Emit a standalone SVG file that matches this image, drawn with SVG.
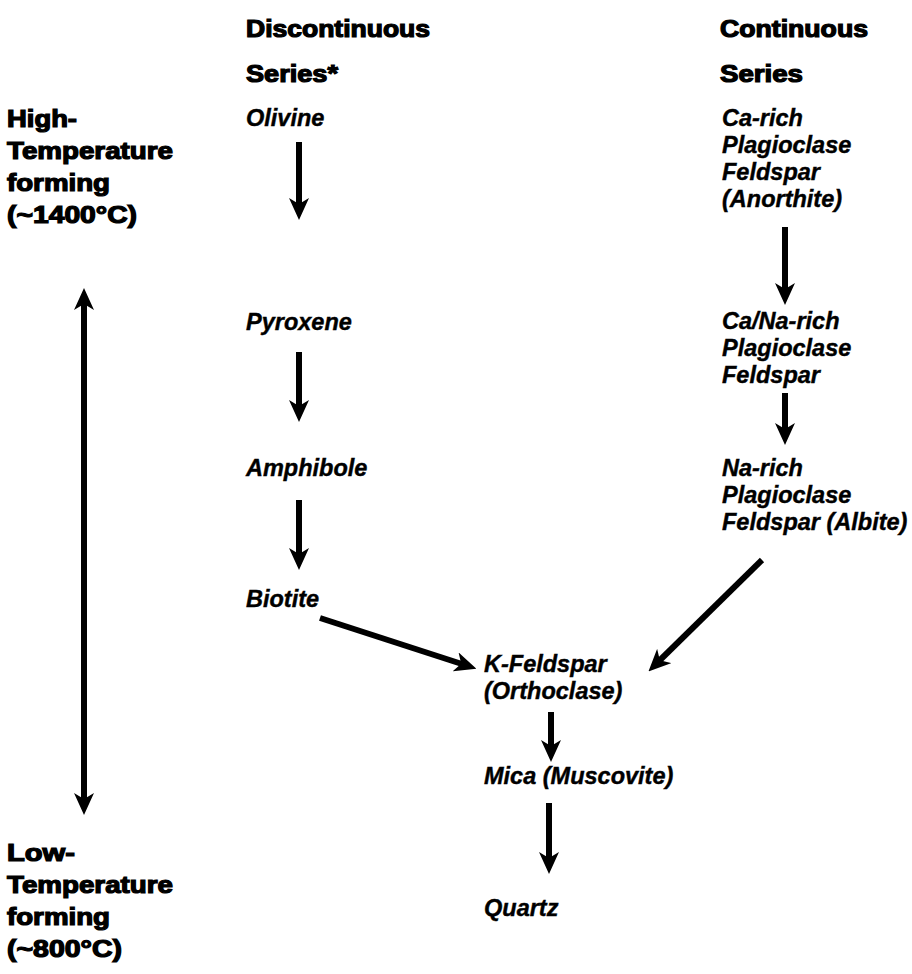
<svg xmlns="http://www.w3.org/2000/svg" width="912" height="974" viewBox="0 0 912 974">
<defs>
<style>
.h{font-family:"Liberation Sans",Arial,sans-serif;font-weight:bold;font-size:23px;fill:#000;stroke:#000;stroke-width:1.2px}
.m{font-family:"Liberation Sans",Arial,sans-serif;font-weight:bold;font-style:italic;font-size:23.5px;fill:#000;stroke:#000;stroke-width:0.4px}
.c{stroke:#000;stroke-width:6;fill:none}
</style>
<marker id="ah" viewBox="0 0 22 20" refX="10" refY="10" markerWidth="22" markerHeight="20" markerUnits="userSpaceOnUse" orient="auto-start-reverse">
<path d="M0,0 L22,10 L0,20 L6,10 z" fill="#000"/>
</marker>
</defs>
<rect width="912" height="974" fill="#fff"/>

<g id="head-discontinuous">
<text class="h" x="246" y="37" textLength="184" lengthAdjust="spacingAndGlyphs">Discontinuous</text>
<text class="h" x="246" y="82" textLength="92" lengthAdjust="spacingAndGlyphs">Series*</text>
</g>
<g id="head-continuous">
<text class="h" x="720" y="37" textLength="148" lengthAdjust="spacingAndGlyphs">Continuous</text>
<text class="h" x="720" y="82" textLength="83" lengthAdjust="spacingAndGlyphs">Series</text>
</g>
<g id="label-high">
<text class="h" x="7" y="127" textLength="70" lengthAdjust="spacingAndGlyphs">High-</text>
<text class="h" x="7" y="159" textLength="166" lengthAdjust="spacingAndGlyphs">Temperature</text>
<text class="h" x="7" y="191" textLength="103" lengthAdjust="spacingAndGlyphs">forming</text>
<text class="h" x="7" y="223" textLength="130" lengthAdjust="spacingAndGlyphs">(~1400°C)</text>
</g>
<g id="label-low">
<text class="h" x="7" y="861" textLength="68" lengthAdjust="spacingAndGlyphs">Low-</text>
<text class="h" x="7" y="893" textLength="166" lengthAdjust="spacingAndGlyphs">Temperature</text>
<text class="h" x="7" y="925" textLength="103" lengthAdjust="spacingAndGlyphs">forming</text>
<text class="h" x="7" y="957" textLength="115" lengthAdjust="spacingAndGlyphs">(~800°C)</text>
</g>

<g id="olivine"><text class="m" x="246" y="126">Olivine</text></g>
<g id="pyroxene"><text class="m" x="246" y="330">Pyroxene</text></g>
<g id="amphibole"><text class="m" x="246" y="476">Amphibole</text></g>
<g id="biotite"><text class="m" x="246" y="607">Biotite</text></g>

<g id="anorthite">
<text class="m" x="722" y="126">Ca-rich</text>
<text class="m" x="722" y="153">Plagioclase</text>
<text class="m" x="722" y="180">Feldspar</text>
<text class="m" x="722" y="207">(Anorthite)</text>
</g>
<g id="ca-na">
<text class="m" x="722" y="329">Ca/Na-rich</text>
<text class="m" x="722" y="356">Plagioclase</text>
<text class="m" x="722" y="383">Feldspar</text>
</g>
<g id="albite">
<text class="m" x="722" y="476">Na-rich</text>
<text class="m" x="722" y="503">Plagioclase</text>
<text class="m" x="722" y="530">Feldspar (Albite)</text>
</g>
<g id="k-feldspar">
<text class="m" x="484" y="672">K-Feldspar</text>
<text class="m" x="484" y="699">(Orthoclase)</text>
</g>
<g id="mica"><text class="m" x="484" y="784">Mica (Muscovite)</text></g>
<g id="quartz"><text class="m" x="484" y="916">Quartz</text></g>

<g id="connectors">
<line class="c" x1="299" y1="142" x2="299" y2="208" marker-end="url(#ah)"/>
<line class="c" x1="299" y1="352" x2="299" y2="410" marker-end="url(#ah)"/>
<line class="c" x1="299" y1="500" x2="299" y2="558" marker-end="url(#ah)"/>
<line class="c" x1="785" y1="227" x2="785" y2="293" marker-end="url(#ah)"/>
<line class="c" x1="785" y1="393" x2="785" y2="433" marker-end="url(#ah)"/>
<line class="c" x1="320" y1="618" x2="465" y2="665" marker-end="url(#ah)"/>
<line class="c" x1="762" y1="560" x2="657" y2="663" marker-end="url(#ah)"/>
<line class="c" x1="551" y1="712" x2="551" y2="750" marker-end="url(#ah)"/>
<line class="c" x1="549" y1="803" x2="549" y2="862" marker-end="url(#ah)"/>
<line class="c" x1="84" y1="300" x2="84" y2="803" marker-start="url(#ah)" marker-end="url(#ah)"/>
</g>
</svg>
